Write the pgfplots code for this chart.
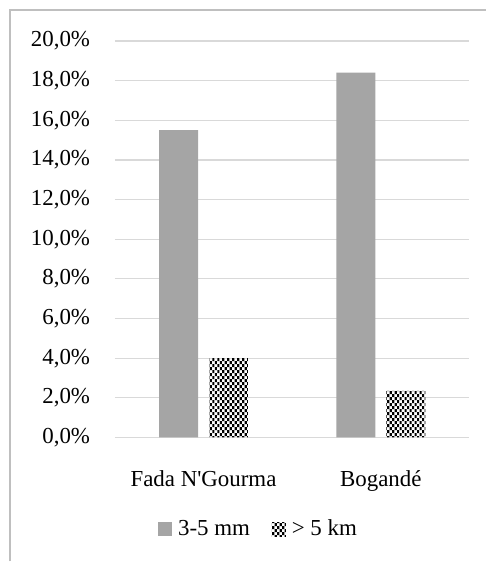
\documentclass[border=0pt]{standalone}
\usepackage{fontspec}
\setmainfont{Liberation Serif}
\usepackage{pgfplots}
\pgfplotsset{compat=1.18}
\usetikzlibrary{patterns}
\definecolor{barA}{HTML}{A5A5A5}
\definecolor{gridc}{HTML}{D9D9D9}
\definecolor{framec}{HTML}{BFBFBF}
% staggered columns of small black dashes
\pgfdeclarepatternformonly{dashcols}{\pgfqpoint{-1bp}{-1bp}}{\pgfqpoint{6bp}{7bp}}{\pgfqpoint{5bp}{6bp}}{%
  \pgfpathrectangle{\pgfqpoint{0bp}{0bp}}{\pgfqpoint{2.2bp}{3bp}}%
  \pgfpathrectangle{\pgfqpoint{2.5bp}{3bp}}{\pgfqpoint{2.2bp}{3bp}}%
  \pgfusepath{fill}}

\pgfplotstableread{
x  a     b
0  15.5  4.0
1  18.4  2.35
}\datatab

\begin{document}
\fontsize{23}{27}\selectfont
\begin{tikzpicture}[x=1bp,y=1bp]
\path (0,0) rectangle (487,562);
\draw[framec, line width=1.3bp] (10,0) -- (10,552) -- (487,552);
\begin{axis}[
    at={(115bp,124bp)}, anchor=south west,
    scale only axis, width=355bp, height=397bp,
    xmin=-0.5, xmax=1.5, ymin=0, ymax=20,
    ytick={0,2,...,20},
    xtick={0,1}, xticklabels={Fada N\textquotesingle Gourma, Bogandé},
    axis line style={draw=none},
    major tick length=0pt,
    ymajorgrids, grid style={gridc, line width=1.2bp},
    ybar=11bp, bar width=39bp,
    /pgf/number format/assume math mode=true,
    yticklabel={\pgfmathprintnumber[fixed, fixed zerofill, precision=1, use comma]{\tick}\%},
    yticklabel style={xshift=-17bp},
    xticklabel style={yshift=-25bp},
    legend style={at={(0.405,-0.232)}, anchor=center, draw=none,
        legend columns=2, font=\fontsize{23}{27}\selectfont,
        /tikz/every odd column/.append style={column sep=4bp},
        /tikz/every even column/.append style={column sep=20bp}},
    legend image code/.code={\path[#1] (0bp,-7bp) rectangle (14bp,7bp);},
]
\addplot[fill=barA, draw=none] table[x=x, y=a] {\datatab};
\addplot[fill=white, draw=none, postaction={pattern=dashcols}] table[x=x, y=b] {\datatab};
\legend{3-5 mm, > 5 km}
\end{axis}
\end{tikzpicture}
\end{document}
